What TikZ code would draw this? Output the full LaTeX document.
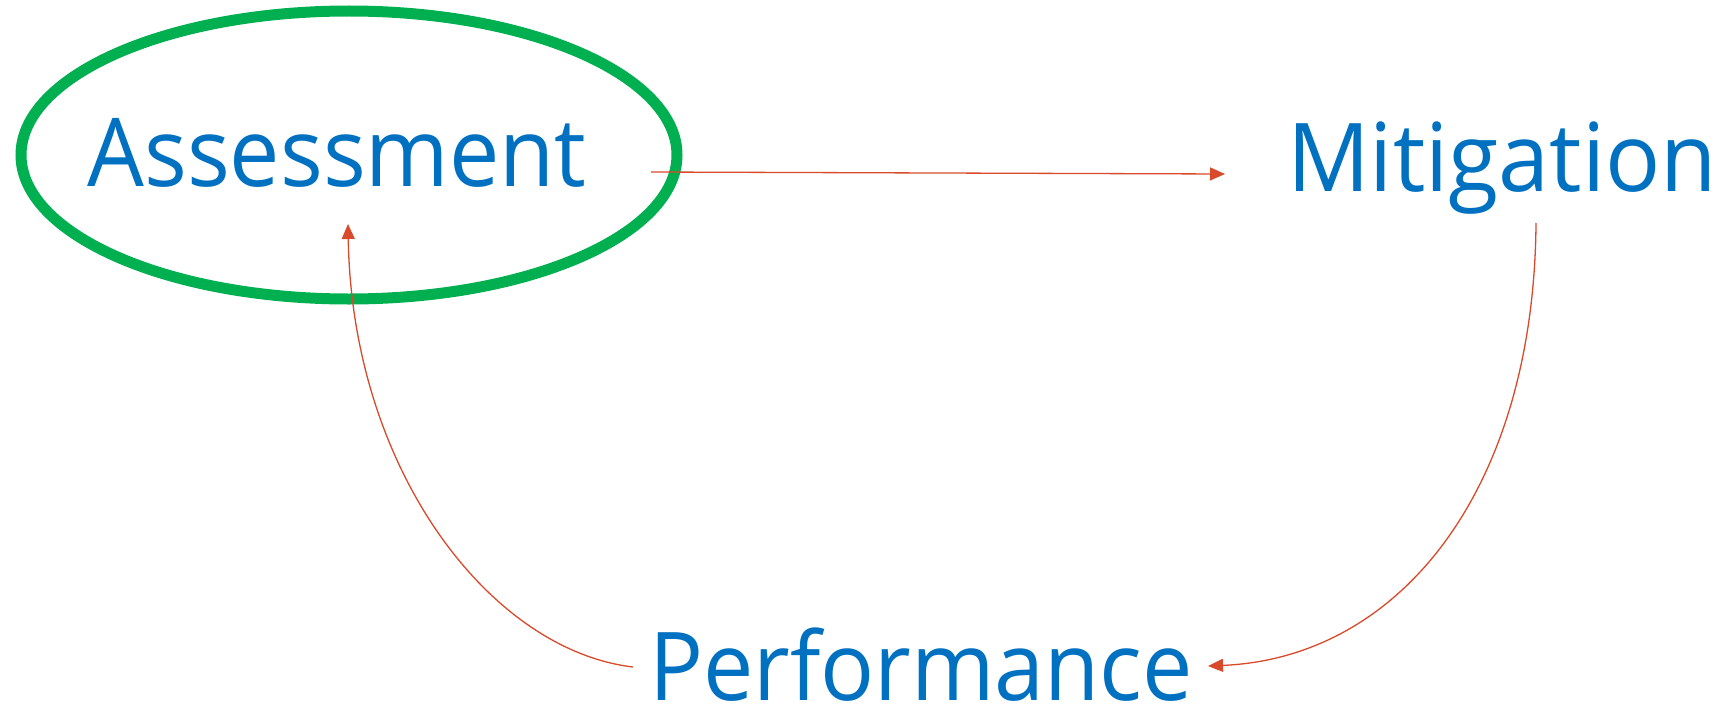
\documentclass[tikz,border=0pt]{standalone}
\usepackage{fontspec}
\newfontfamily\wordfont[FakeStretch=0.945]{Open Sans}
\newfontfamily\wordfontwide[FakeStretch=0.965]{Open Sans}
\usetikzlibrary{arrows.meta}
\definecolor{txtblue}{HTML}{0070C0}
\definecolor{ringgreen}{HTML}{00B050}
\definecolor{linkred}{HTML}{D84A2A}
\begin{document}
\begin{tikzpicture}[x=1pt,y=-1pt,
  word/.style={font=\wordfont\fontsize{95}{95}\selectfont, text=txtblue, inner sep=0pt, anchor=base},
  wideword/.style={word, font=\wordfontwide\fontsize{95}{95}\selectfont},
  link/.style={draw=linkred, line width=1.3pt, -{Triangle[length=15pt,width=13pt]}},
  ring/.style={draw=ringgreen, line width=11pt}
]
\useasboundingbox (0,0) rectangle (1726,709);
\draw[ring] (349,155) ellipse [x radius=328pt, y radius=144pt];
\node[word] (assess) at (337,186) {Assessment};
\node[wideword] (mitig) at (1502,191) {Mitigation};
\node[word] (perf) at (921,700) {Performance};
\coordinate (aOut) at (651,172);
\coordinate (mIn) at (1225,174);
\draw[link] (aOut) -- (mIn);
\coordinate (mOut) at (1536,223);
\coordinate (pIn) at (1208,666);
\draw[link] (mOut) .. controls (1534,490) and (1400,658) .. (pIn);
\coordinate (pOut) at (633,667);
\coordinate (aIn) at (348,224);
\draw[link] (pOut) .. controls (490,650) and (352,470) .. (aIn);
\end{tikzpicture}
\end{document}
